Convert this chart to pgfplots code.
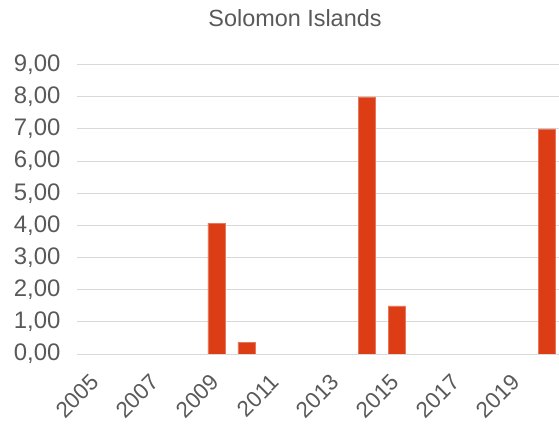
\documentclass[border=0pt]{standalone}
\usepackage{fontspec}
\setmainfont{Liberation Sans}
\usepackage{pgfplots}
\pgfplotsset{compat=1.18}
\definecolor{barred}{RGB}{220,61,20}
\definecolor{lbl}{RGB}{89,89,89}
\definecolor{grd}{RGB}{217,217,217}
\begin{document}
\begin{tikzpicture}
\path[use as bounding box] (-77bp,-72bp) rectangle (482bp,354bp);
\begin{axis}[
  at={(0,0)}, anchor=south west,
  scale only axis,
  width=482bp, height=289.4bp,
  xmin=-0.64, xmax=15.4,
  ymin=0, ymax=9,
  ytick={0,1,...,9},
  xtick={0,2,...,14},
  xticklabels={2005,2007,2009,2011,2013,2015,2017,2019},
  axis line style={draw=none},
  major tick length=0pt,
  ymajorgrids,
  grid style={grd, line width=1bp},
  yticklabel style={font=\fontsize{24}{26}\selectfont, text=lbl, xshift=-13bp},
  xticklabel style={font=\fontsize{22.5}{26}\selectfont, text=lbl, xshift=-7bp, yshift=-14bp, rotate=45, anchor=north east},
  /pgf/number format/assume math mode=true,
  /pgf/number format/.cd, fixed, fixed zerofill, precision=2, use comma,
]
\addplot[ybar, bar width=17bp, fill=barred, draw=barred!70!white, line width=0.5bp] coordinates {
  (4,4.07) (5,0.37) (9,8.0) (10,1.5) (15,7.0)
};
\draw[grd, line width=1bp] (rel axis cs:0,0) -- (rel axis cs:1,0);
\end{axis}
\node[font=\fontsize{23.5}{26}\selectfont, text=lbl] at (218bp,336bp) {Solomon Islands};
\end{tikzpicture}
\end{document}
